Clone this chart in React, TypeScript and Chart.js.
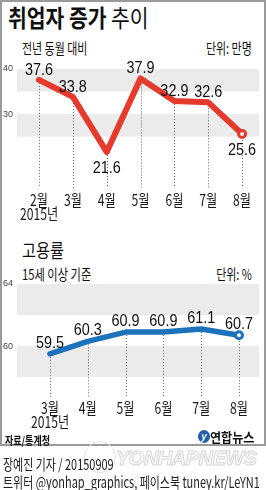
import React, { useEffect, useRef } from 'react';
import { Chart, registerables } from 'chart.js';

Chart.register(...registerables);

// ---------- data ----------
const empMonths = ['2월', '3월', '4월', '5월', '6월', '7월', '8월'];
const empChange = [37.6, 33.8, 21.6, 37.9, 32.9, 32.6, 25.6];
const empTicks = [30, 40];
const empBands: [number, number][] = [[35, 40], [25, 30]];
const empBelow = [2, 6];

const rateMonths = ['3월', '4월', '5월', '6월', '7월', '8월'];
const empRate = [59.5, 60.3, 60.9, 60.9, 61.1, 60.7];
const rateTicks = [60, 64];
const rateBands: [number, number][] = [[62, 64], [58, 60]];
const rateBelow: number[] = [];

const yearLabel = '2015년';

const KR = '"Noto Sans CJK KR", "Noto Sans", sans-serif';
const LAT = '"Liberation Sans", Arial, sans-serif';

function condensed(ctx: CanvasRenderingContext2D, text: string, x: number, y: number, sx: number) {
  ctx.save();
  ctx.translate(x, y);
  ctx.scale(sx, 1);
  ctx.fillText(text, 0, 0);
  ctx.restore();
}

function makeDecor(bands: [number, number][], months: string[], below: number[], aboveOff: number, belowOff: number, monthOff: number) {
  return {
    id: 'decor',
    beforeDatasetsDraw(chart: any) {
      const { ctx, chartArea: ca, scales } = chart;
      const y = scales.y;
      ctx.save();
      ctx.fillStyle = '#ebebeb';
      for (const [lo, hi] of bands) {
        const yt = y.getPixelForValue(hi);
        const yb = y.getPixelForValue(lo);
        ctx.fillRect(ca.left, yt, ca.right - ca.left, yb - yt);
      }
      const meta = chart.getDatasetMeta(0);
      ctx.strokeStyle = '#666';
      ctx.lineWidth = 1;
      ctx.setLineDash([1, 2]);
      meta.data.forEach((pt: any) => {
        const px = Math.round(pt.x) + 0.5;
        ctx.beginPath();
        ctx.moveTo(px, pt.y);
        ctx.lineTo(px, ca.bottom);
        ctx.stroke();
      });
      ctx.restore();
    },
    afterDatasetsDraw(chart: any) {
      const { ctx, chartArea: ca } = chart;
      const meta = chart.getDatasetMeta(0);
      const data = chart.data.datasets[0].data;
      ctx.save();
      ctx.fillStyle = '#111';
      ctx.textAlign = 'center';
      ctx.textBaseline = 'alphabetic';
      ctx.font = `16px ${LAT}`;
      meta.data.forEach((pt: any, i: number) => {
        const v = data[i].y.toFixed(1);
        const isBelow = below.includes(i);
        condensed(ctx, v, pt.x, isBelow ? pt.y + belowOff : pt.y - aboveOff, 0.9);
      });
      ctx.font = `16px ${KR}`;
      ctx.textBaseline = 'middle';
      ctx.fillStyle = '#1a1a1a';
      meta.data.forEach((pt: any, i: number) => {
        condensed(ctx, months[i], pt.x, ca.bottom + monthOff, 0.76);
        if (i === 0) condensed(ctx, yearLabel, pt.x, ca.bottom + monthOff + 14, 0.76);
      });
      ctx.restore();
    },
  };
}

function buildConfig(
  values: number[],
  color: string,
  lw: number,
  xmin: number,
  xmax: number,
  ymin: number,
  ymax: number,
  ticks: number[],
  padding: any,
  plugin: any
): any {
  const last = values.length - 1;
  return {
    type: 'line',
    data: {
      datasets: [
        {
          data: values.map((v, i) => ({ x: i, y: v })),
          borderColor: color,
          borderWidth: lw,
          tension: 0,
          borderCapStyle: 'round',
          borderJoinStyle: 'round',
          pointRadius: (c: any) => (c.dataIndex === last ? 3.5 : 0),
          pointBorderWidth: 3,
          pointBackgroundColor: '#fff',
          pointBorderColor: color,
          pointHoverRadius: 0,
        },
      ],
    },
    options: {
      animation: false,
      responsive: false,
      events: [],
      layout: { padding, autoPadding: false },
      plugins: { legend: { display: false }, tooltip: { enabled: false } },
      scales: {
        x: { type: 'linear', min: xmin, max: xmax, display: false },
        y: {
          type: 'linear',
          min: ymin,
          max: ymax,
          position: 'left',
          grid: { display: false, drawTicks: false },
          border: { display: false },
          ticks: { font: { size: 9, family: LAT }, color: '#444', padding: 4 },
          afterBuildTicks: (s: any) => {
            s.ticks = ticks.map((v) => ({ value: v }));
          },
          afterFit: (s: any) => {
            s.width = 17;
          },
        },
      },
    },
    plugins: [plugin],
  };
}

function T(props: { x: number; y: number; size: number; children: any; align?: 'left' | 'right'; weight?: any; sx?: number; color?: string; style?: any }) {
  const { x, y, size, children, align = 'left', weight = 'normal', sx = 0.73, color = '#111', style } = props;
  const base: any = {
    position: 'absolute',
    top: y - size / 2,
    fontSize: size,
    lineHeight: `${size}px`,
    fontFamily: KR,
    fontWeight: weight,
    color,
    whiteSpace: 'nowrap',
    transform: `scaleX(${sx})`,
    transformOrigin: align === 'left' ? 'left center' : 'right center',
    ...style,
  };
  if (align === 'left') base.left = x;
  else base.right = 266 - x;
  return <div style={base}>{children}</div>;
}

export default function App() {
  const c1 = useRef<HTMLCanvasElement>(null);
  const c2 = useRef<HTMLCanvasElement>(null);

  useEffect(() => {
    const ch1 = new Chart(
      c1.current!,
      buildConfig(empChange, '#e53a2c', 6, -0.65, 6.5, 13.6, 40, empTicks, { top: 14, right: 7, bottom: 37, left: 0 }, makeDecor(empBands, empMonths, empBelow, 5, 21.5, 12))
    );
    const ch2 = new Chart(
      c2.current!,
      buildConfig(empRate, '#1d73bb', 5.5, -0.873, 5.53, 56.65, 64, rateTicks, { top: 14, right: 7, bottom: 42, left: 0 }, makeDecor(rateBands, rateMonths, rateBelow, 6, 21.5, 10))
    );
    return () => {
      ch1.destroy();
      ch2.destroy();
    };
  }, []);

  return (
    <div style={{ position: 'relative', width: 266, height: 490, background: '#fff', overflow: 'hidden' }}>
      <style>{'body{margin:0}'}</style>
      <div style={{ position: 'absolute', left: 0, top: 0, width: 266, height: 446, border: '2px solid #9a9a9a', boxSizing: 'border-box' }} />
      <T x={8} y={17} size={24} sx={0.85}>
        <span style={{ fontWeight: 'bold' }}>취업자 증가</span> 추이
      </T>
      <T x={22} y={47} size={15}>전년 동월 대비</T>
      <T x={252} y={47} size={15} align="right">단위: 만명</T>
      <canvas ref={c1} width={266} height={170} style={{ position: 'absolute', left: 0, top: 55 }} />

      <T x={22} y={249} size={19} sx={0.8}>고용률</T>
      <T x={22} y={273} size={15} sx={0.75}>15세 이상 기준</T>
      <T x={252} y={273} size={15} align="right">단위: %</T>
      <canvas ref={c2} width={266} height={170} style={{ position: 'absolute', left: 0, top: 270 }} />

      <T x={5} y={440} size={11} weight="bold" sx={0.82}>자료/통계청</T>
      <div style={{ position: 'absolute', left: 198, top: 430, width: 12, height: 13, borderRadius: '50%', background: '#1f5fae', color: '#fff', fontSize: 10, lineHeight: '13px', textAlign: 'center', fontFamily: LAT, fontStyle: 'italic', fontWeight: 'bold' }}>y</div>
      <T x={210} y={436} size={13} weight="bold" sx={0.93}>연합뉴스</T>

      <div style={{ position: 'absolute', left: 84, top: 441, width: 32, height: 32, borderRadius: '50%', border: '1.5px solid #e2e2e2', boxSizing: 'border-box' }} />
      <div style={{ position: 'absolute', left: 116, top: 447, fontSize: 20, lineHeight: '22px', fontFamily: LAT, fontWeight: 'bold', fontStyle: 'italic', color: 'transparent', WebkitTextStroke: '1px #d4d4d4', whiteSpace: 'nowrap', letterSpacing: '-0.5px' }}>YONHAPNEWS</div>

      <T x={3} y={463} size={15} color="#222">장예진 기자 / 20150909</T>
      <T x={3} y={481} size={15} color="#222">트위터 @yonhap_graphics, 페이스북 tuney.kr/LeYN1</T>
    </div>
  );
}
